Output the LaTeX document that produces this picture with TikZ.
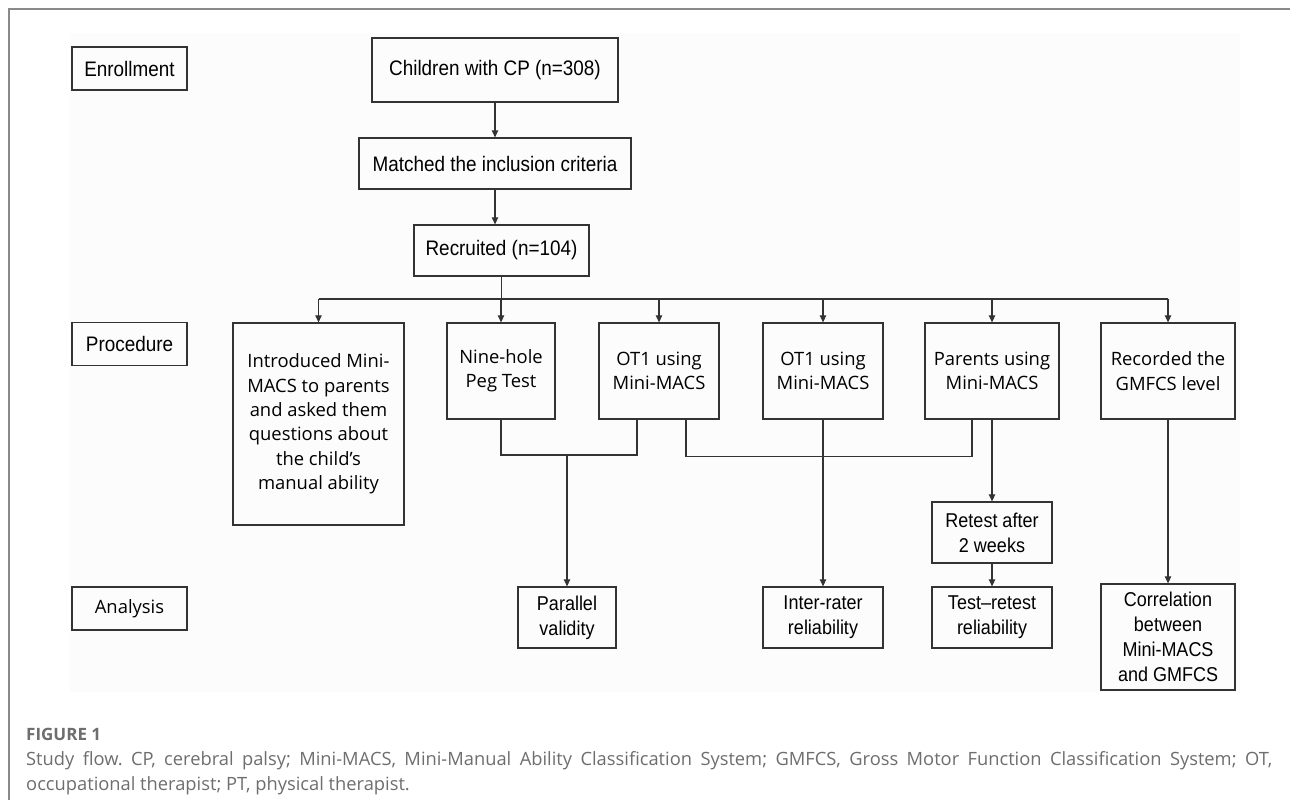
\documentclass[tikz,border=0pt]{standalone}
\usepackage{fontspec}
\setmainfont{Open Sans}
\newfontfamily\narrowfont[FakeStretch=0.9]{Liberation Sans}
\usetikzlibrary{arrows.meta}
\definecolor{ink}{HTML}{333333}
\definecolor{framegray}{HTML}{8A8A8A}
\definecolor{capgray}{HTML}{6E6E6E}
\definecolor{panel}{HTML}{FCFCFC}
\tikzset{
  box/.style={draw=ink, line width=1.3pt, align=center, inner sep=0pt, text=black},
  nbox/.style={box, font=\narrowfont\fontsize{21}{26}\selectfont},
  sbox/.style={box, font=\narrowfont\fontsize{20}{25}\selectfont},
  wbox/.style={box, font=\fontsize{18.4}{24.4}\selectfont},
  link/.style={draw=ink, line width=1.1pt},
  arr/.style={link, -{Triangle[length=7pt,width=6.5pt]}},
}
\begin{document}
\frenchspacing
\begin{tikzpicture}[x=1pt,y=-1pt]
\useasboundingbox (0,0) rectangle (1290,800);
\fill[white] (0,0) rectangle (1290,800);
\fill[panel] (70,33) rectangle (1240,692);
\draw[framegray, line width=1.5pt] (9,800) -- (9,9) -- (1290,9);

% stage labels
\node[nbox, minimum width=115, minimum height=43] (enr) at (129.5,68.5) {Enrollment};
\node[nbox, minimum width=115, minimum height=43] (proc) at (129.5,344) {Procedure};
\node[wbox, minimum width=115, minimum height=43] (ana) at (129.5,608.5) {Analysis};

% enrollment chain
\node[nbox, minimum width=246, minimum height=64] (child) at (495,70) {Children with CP (n=308)};
\node[nbox, minimum width=272, minimum height=51] (match) at (495,163.5) {Matched the inclusion criteria};
\node[nbox, minimum width=175, minimum height=51] (rec) at (501.5,250.5) {Recruited (n=104)};

% procedure row
\node[wbox, minimum width=171, minimum height=202] (intro) at (318.5,424) {Introduced Mini-\\MACS to parents\\and asked them\\questions about\\the child’s\\manual ability};
\node[wbox, minimum width=108, minimum height=96] (nine) at (501,371) {Nine-hole\\Peg Test};
\node[wbox, minimum width=120, minimum height=96] (ot1) at (659,371) {OT1 using\\Mini-MACS};
\node[wbox, minimum width=120, minimum height=96] (ot2) at (823,371) {OT1 using\\Mini-MACS};
\node[wbox, minimum width=134, minimum height=96] (par) at (992,371) {Parents using\\Mini-MACS};
\node[wbox, minimum width=134, minimum height=96] (rgm) at (1168,371) {Recorded the\\GMFCS level};
\node[sbox, minimum width=120, minimum height=61] (retest) at (992,532.5) {Retest after\\2 weeks};

% analysis row
\node[sbox, minimum width=98, minimum height=61] (pv) at (567,617.5) {Parallel\\validity};
\node[sbox, minimum width=120, minimum height=61] (ir) at (823,617.5) {Inter-rater\\reliability};
\node[sbox, minimum width=120, minimum height=61] (trr) at (992,617.5) {Test–retest\\reliability};
\node[sbox, minimum width=134, minimum height=106] (corr) at (1168,637) {Correlation\\between\\Mini-MACS\\and GMFCS};

% connectors
\draw[arr] (child) -- (match);
\draw[arr] (match.south) -- (match.south |- rec.north);
\coordinate (bus) at (0,299);
\draw[link] (rec.south) -- (rec.south |- bus);
\draw[link] (intro.north |- bus) -- (rgm.north |- bus);
\foreach \n in {intro,nine,ot1,ot2,par,rgm}
  \draw[arr] (\n.north |- bus) -- (\n.north);

\coordinate (j1) at (0,455);
\draw[link] (nine.south) -- (nine.south |- j1) -| ([xshift=-22pt]ot1.south);
\draw[arr] (pv.north |- j1) -- (pv.north);
\draw[link] ([xshift=27pt]ot1.south) -- ++(0,37) -| ([xshift=-20pt]par.south);
\draw[arr] (ot2) -- (ir);
\draw[arr] (par) -- (retest);
\draw[arr] (retest) -- (trr);
\draw[arr] (rgm) -- (corr);

% caption
\node[anchor=base west, inner sep=0pt, text=capgray, font=\bfseries\fontsize{17}{20}\selectfont] (fig) at (26,740) {FIGURE 1};
\node[anchor=north west, inner sep=0pt, text width=1246pt, align=justify, text=capgray, font=\fontsize{18.3}{25}\selectfont] (cap) at (26,751) {Study flow. CP, cerebral palsy; Mini-MACS, Mini-Manual Ability Classification System; GMFCS, Gross Motor Function Classification System; OT,\linebreak occupational therapist; PT, physical therapist.};
\end{tikzpicture}
\end{document}
